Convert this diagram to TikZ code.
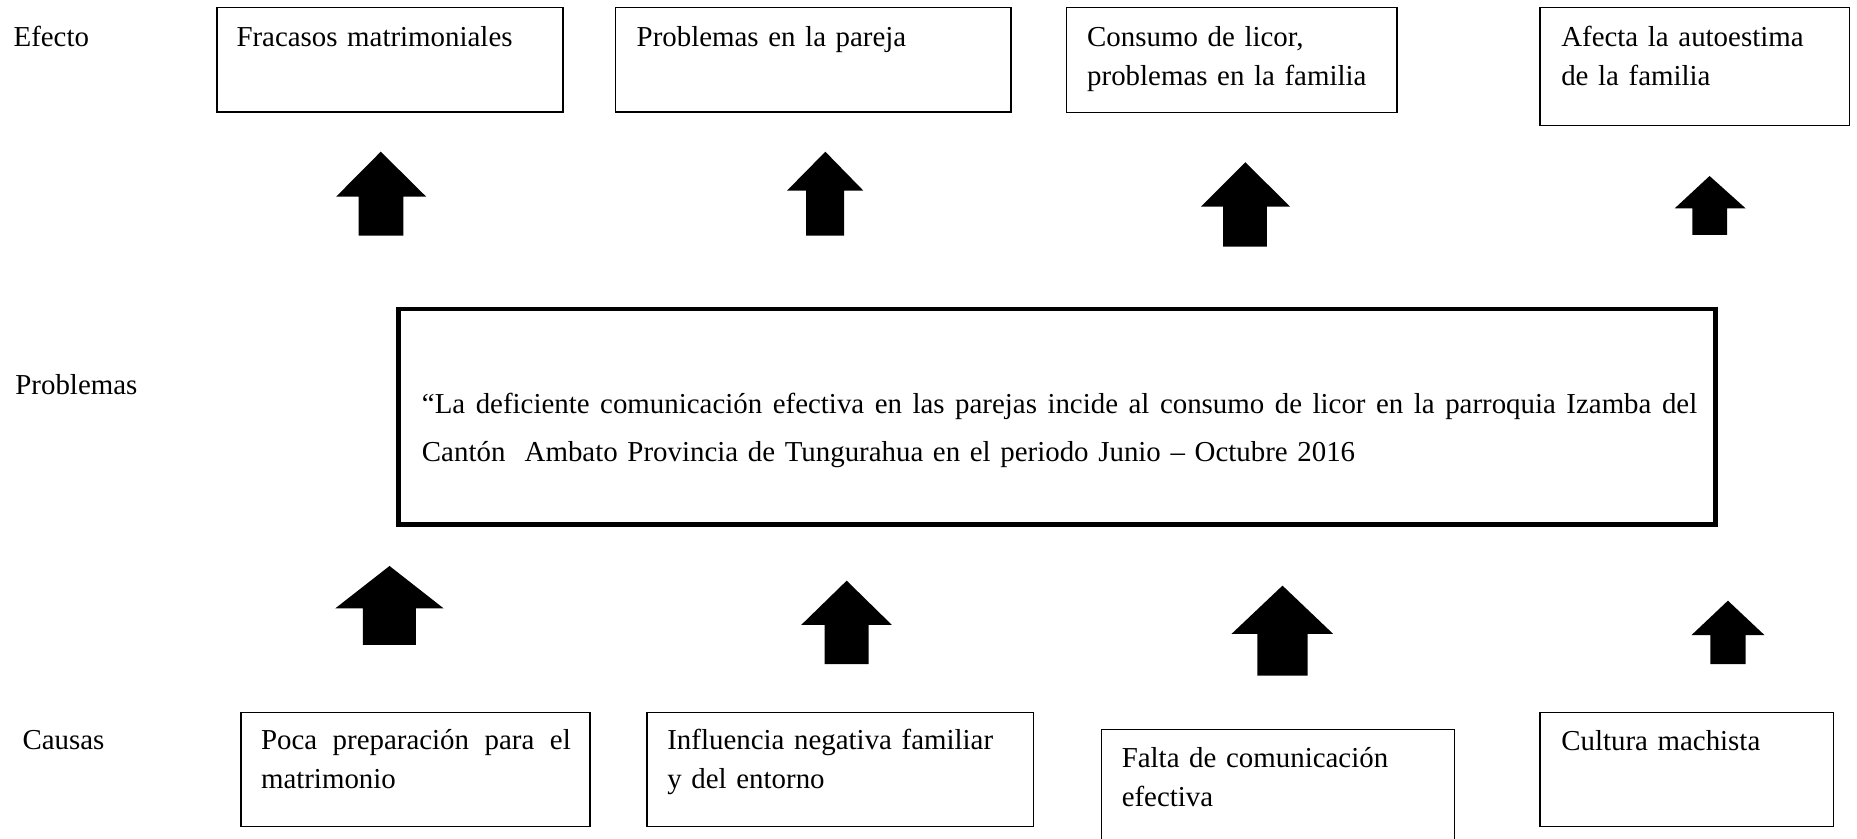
\documentclass[tikz,border=0pt]{standalone}
\usepackage{fontspec}
\setmainfont{Liberation Serif}
\begin{document}
\begin{tikzpicture}[x=1pt,y=-1pt,
  thinbox/.style={draw=black, line width=1.3pt, inner sep=0pt, outer sep=0pt, anchor=north west},
  thickbox/.style={draw=black, line width=4pt, inner sep=0pt, outer sep=0pt, anchor=north west},
  txt/.style={inner sep=0pt, outer sep=0pt, anchor=base west, align=left, font=\fontsize{24.4pt}{33pt}\selectfont},
  bigtxt/.style={txt, font=\fontsize{24.4pt}{41pt}\selectfont},
  blk/.style={fill=black}]
\useasboundingbox (0,0) rectangle (1568,708);

% row labels
\node[txt, text width=150pt] (lefecto) at (11.5,39.4) {Efecto};
\node[txt, text width=150pt] (lprob) at (13,333) {Problemas};
\node[txt, text width=150pt] (lcaus) at (19,632.7) {Causas};

% effect boxes
\node[thinbox, minimum width=292.5pt, minimum height=88.3pt] (b1) at (183,6.5) {};
\node[thinbox, minimum width=334pt, minimum height=88.3pt] (b2) at (519.7,6.5) {};
\node[thinbox, minimum width=278.9pt, minimum height=88.5pt] (b3) at (900.7,6.5) {};
\node[thinbox, minimum width=261.2pt, minimum height=99.9pt] (b4) at (1300.5,6.2) {};
\node[txt, text width=270pt] (tb1) at (199.7,39.4) {Fracasos matrimoniales};
\node[txt, text width=300pt] (tb2) at (537.6,39.4) {Problemas en la pareja};
\node[txt, text width=260pt] (tb3) at (918,39.4) {Consumo de licor,\\problemas en la familia};
\node[txt, text width=240pt] (tb4) at (1318.3,39.4) {Afecta la autoestima\\de la familia};

% effect arrows
\fill[blk] (302.8,199) -- (302.8,166.1) -- (283.8,166.1) -- (321.5,128.1) -- (359.9,166.1) -- (340.5,166.1) -- (340.5,199) -- cycle;
\fill[blk] (680.7,199) -- (680.7,161) -- (664.5,161) -- (696.9,128.1) -- (729,161) -- (712.7,161) -- (712.7,199) -- cycle;
\fill[blk] (1032.7,208.3) -- (1032.7,174.5) -- (1014,174.5) -- (1051.5,137) -- (1089.3,174.5) -- (1069.8,174.5) -- (1069.8,208.3) -- cycle;
\fill[blk] (1429,198.4) -- (1429,175.9) -- (1414.1,175.9) -- (1443.5,148.6) -- (1473.9,175.9) -- (1458.3,175.9) -- (1458.3,198.4) -- cycle;

% problem box
\node[thickbox, minimum width=1112.1pt, minimum height=181.7pt] (prob) at (336.4,261) {};
\node[bigtxt, text width=1090pt] (tprob) at (356.3,349) {\hbox to 1076.7pt{“La \hfill deficiente \hfill comunicación \hfill efectiva \hfill en \hfill las \hfill parejas \hfill incide \hfill al \hfill consumo \hfill de \hfill licor \hfill en \hfill la \hfill parroquia \hfill Izamba \hfill del}\\Cantón\ \ Ambato Provincia de Tungurahua en el periodo Junio – Octubre 2016};

% cause arrows
\fill[blk] (306.5,544.6) -- (306.5,513.7) -- (283.1,513.7) -- (328.9,477.9) -- (374.6,513.7) -- (351.2,513.7) -- (351.2,544.6) -- cycle;
\fill[blk] (696.2,560.7) -- (696.2,527.7) -- (676.5,527.7) -- (714.9,490.3) -- (753.1,527.7) -- (733.4,527.7) -- (733.4,560.7) -- cycle;
\fill[blk] (1061.7,570.5) -- (1061.7,535.3) -- (1039.8,535.3) -- (1082.9,494.5) -- (1125.7,535.3) -- (1104.2,535.3) -- (1104.2,570.5) -- cycle;
\fill[blk] (1444.2,560.7) -- (1444.2,536.2) -- (1428.3,536.2) -- (1459,507.2) -- (1489.8,536.2) -- (1473.9,536.2) -- (1473.9,560.7) -- cycle;

% cause boxes
\node[thinbox, minimum width=294.5pt, minimum height=96.2pt] (c1) at (203.7,601.8) {};
\node[thinbox, minimum width=326.5pt, minimum height=96.2pt] (c2) at (546.2,601.8) {};
\node[thinbox, minimum width=298pt, minimum height=104.2pt] (c3) at (930,615.8) {};
\node[thinbox, minimum width=247.8pt, minimum height=96.2pt] (c4) at (1300.4,601.8) {};
\node[txt, text width=275pt] (tc1) at (220.4,633) {\hbox to 261.6pt{Poca \hfill preparación \hfill para \hfill el}\\matrimonio};
\node[txt, text width=300pt] (tc2) at (563.5,633) {Influencia negativa familiar\\y del entorno};
\node[txt, text width=270pt] (tc3) at (947.2,648) {Falta de comunicación\\efectiva};
\node[txt, text width=230pt] (tc4) at (1318.3,633.3) {Cultura machista};
\end{tikzpicture}
\end{document}
